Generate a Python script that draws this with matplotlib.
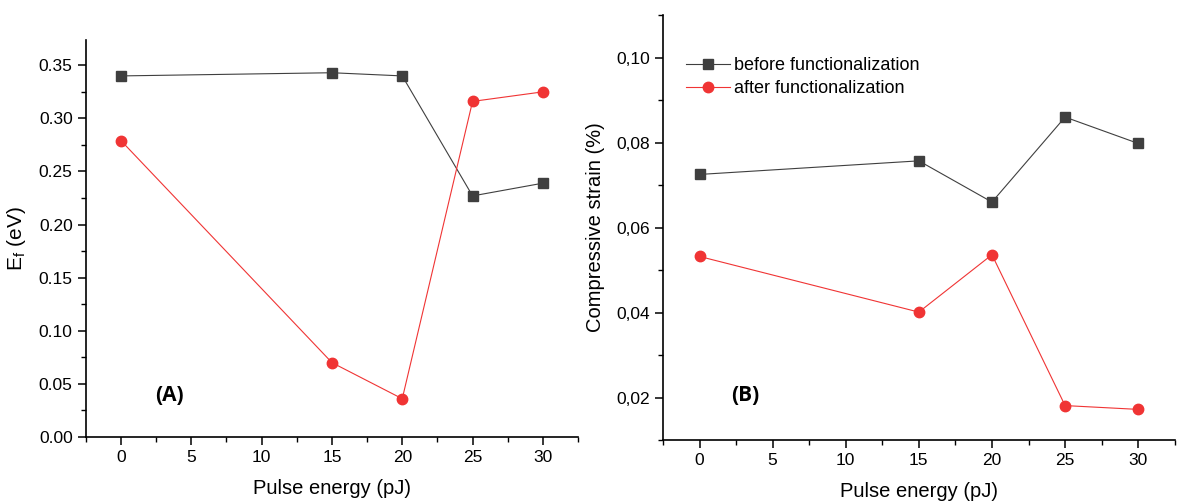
import matplotlib
matplotlib.use("Agg")
import matplotlib.pyplot as plt
from matplotlib.ticker import MultipleLocator, FuncFormatter

plt.rcParams["font.family"] = ["Liberation Sans", "DejaVu Sans"]

pulse_energy = [0, 15, 20, 25, 30]

# (A) Fermi level shift
ef_before = [0.340, 0.343, 0.340, 0.227, 0.239]
ef_after = [0.279, 0.070, 0.036, 0.316, 0.325]

# (B) compressive strain
strain_before = [0.0725, 0.0757, 0.0660, 0.0860, 0.0798]
strain_after = [0.0532, 0.0401, 0.0536, 0.0181, 0.0172]

BLACK = "#3f3f3f"
RED = "#f03434"

fig = plt.figure(figsize=(11.93, 5.04), dpi=100)
ax1 = fig.add_axes([0.072, 0.133, 0.4125, 0.788])
ax2 = fig.add_axes([0.5557, 0.127, 0.429, 0.843])


def style(ax):
    for s in ("top", "right"):
        ax.spines[s].set_visible(False)
    for s in ("left", "bottom"):
        ax.spines[s].set_linewidth(1.2)
    ax.set_xlim(-2.5, 32.5)
    ax.xaxis.set_major_locator(MultipleLocator(5))
    ax.xaxis.set_minor_locator(MultipleLocator(2.5))
    ax.tick_params(which="major", direction="out", length=6, width=1.1, labelsize=12.5)
    ax.tick_params(which="minor", direction="out", length=3.5, width=1.0)
    ax.set_xlabel("Pulse energy (pJ)", fontsize=14.5, labelpad=10)


def draw(ax, before, after):
    ax.plot(pulse_energy, before, color=BLACK, lw=0.8, marker="s", ms=6.8,
            label="before functionalization", clip_on=False)
    ax.plot(pulse_energy, after, color=RED, lw=0.8, marker="o", ms=7.5,
            label="after functionalization", clip_on=False)


draw(ax1, ef_before, ef_after)
style(ax1)
ax1.set_ylim(0, 0.374)
ax1.yaxis.set_major_locator(MultipleLocator(0.05))
ax1.yaxis.set_minor_locator(MultipleLocator(0.025))
ax1.yaxis.set_major_formatter(FuncFormatter(lambda v, p: f"{v:.2f}"))
ax1.set_ylabel("E$_\\mathregular{f}$ (eV)", fontsize=15, labelpad=8)
ax1.text(0.17, 0.105, "(A)", transform=ax1.transAxes, fontsize=15,
         fontweight="bold", ha="center", va="center",
         family=["Open Sans", "DejaVu Sans"])

draw(ax2, strain_before, strain_after)
style(ax2)
ax2.set_ylim(0.01, 0.11)
ax2.yaxis.set_major_locator(MultipleLocator(0.02))
ax2.yaxis.set_minor_locator(MultipleLocator(0.01))
ax2.yaxis.set_major_formatter(FuncFormatter(lambda v, p: f"{v:.2f}".replace(".", ",")))
ax2.set_ylabel("Compressive strain (%)", fontsize=14.5, labelpad=8)
ax2.text(0.16, 0.104, "(B)", transform=ax2.transAxes, fontsize=15,
         fontweight="bold", ha="center", va="center",
         family=["Open Sans", "DejaVu Sans"])
ax2.legend(loc="upper left", bbox_to_anchor=(0.014, 0.94), frameon=False,
           fontsize=13, handlelength=2.4, handletextpad=0.25, labelspacing=0.35)

fig.savefig("out.png", dpi=100)
